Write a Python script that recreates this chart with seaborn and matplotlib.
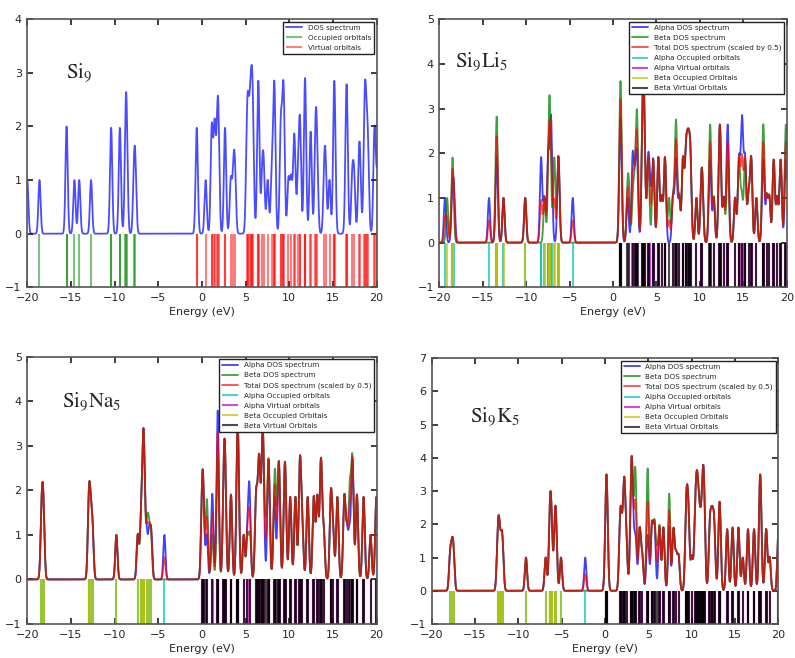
import numpy as np
import pandas as pd
import matplotlib
matplotlib.use("Agg")
import matplotlib.pyplot as plt
import seaborn as sns

# orbital energies (eV); repeated / close values = (near) degenerate levels
si9_occ = [-20.0, -18.6, -15.5, -15.5, -14.6, -14.05, -12.7, -10.42, -10.38, -9.42, -9.38,
           -8.76, -8.68, -8.6, -7.78, -7.62]
si9_virt = [-0.62, -0.58, 0.42, 1.1, 1.14, 1.42, 1.47, 1.72, 1.84, 1.9, 2.62, 2.66, 3.3, 3.6, 3.78,
            5.12, 5.22, 5.32, 5.48, 5.58, 5.68, 5.78, 5.86, 6.4, 6.45, 6.5, 6.9, 7.08, 7.52, 7.98,
            8.22, 8.28, 8.34, 9.0, 9.05, 9.26, 9.33, 9.4, 9.9, 10.2, 10.52, 10.62, 11.0, 11.2, 11.25,
            11.76, 11.8, 11.84, 12.4, 12.48, 12.98, 13.05, 13.2, 14.0, 14.16, 14.6, 15.1, 15.15, 15.2,
            16.5, 16.55, 16.62, 17.2, 17.42, 17.96, 18.1, 18.58, 18.66, 18.74, 18.9, 19.02,
            19.72, 19.78, 20.05]

li5_alpha_occ = [-19.35, -18.5, -18.3, -14.28, -13.42, -13.36, -12.62, -10.12, -8.32, -8.24, -7.9,
                 -7.5, -7.45, -7.2, -7.14, -7.08, -6.32, -6.26, -4.64]
li5_beta_occ = [-19.1, -18.52, -18.44, -13.45, -13.4, -13.34, -12.6, -10.1, -7.88, -7.42, -7.35,
                -7.28, -7.2, -6.8, -6.72, -6.32, -6.24]
li5_alpha_virt = [0.8, 0.86, 0.92, 1.68, 2.22, 2.3, 2.52, 2.7, 2.8, 3.35, 3.42, 3.5, 3.56, 3.64,
                  4.0, 4.1, 4.3, 4.58, 4.68, 5.18, 5.26, 5.6, 5.94, 6.02, 6.9, 7.2, 7.3, 7.62,
                  8.0, 8.1, 8.35, 8.45, 8.6, 8.7, 8.85, 8.95, 9.6, 10.15, 10.3, 11.12, 11.22, 11.6,
                  12.22, 12.3, 12.38, 12.75, 13.12, 13.2, 13.28, 14.05, 14.45, 14.55, 14.78, 14.86,
                  14.92, 15.15, 15.25, 15.6, 15.86, 15.95, 16.5, 17.25, 17.35, 17.7, 18.0, 18.45,
                  18.55, 18.9, 19.25, 19.35, 19.85, 19.95]
li5_beta_virt = [0.78, 0.84, 0.88, 0.94, 1.66, 1.84, 2.3, 2.52, 2.7, 2.76, 2.82, 3.35, 3.42, 3.5,
                 3.56, 3.64, 4.0, 4.1, 4.58, 4.68, 5.18, 5.26, 5.6, 5.94, 6.02, 6.45, 6.9, 7.18,
                 7.25, 7.32, 7.62, 8.0, 8.1, 8.35, 8.45, 8.6, 8.7, 8.85, 8.95, 9.6, 10.15, 10.3,
                 11.1, 11.18, 11.26, 11.6, 12.22, 12.3, 12.38, 12.75, 13.15, 13.25, 14.05, 14.45,
                 14.55, 14.82, 15.15, 15.25, 15.6, 15.86, 15.95, 16.5, 17.22, 17.3, 17.38, 17.7,
                 18.0, 18.45, 18.55, 18.9, 19.25, 19.35, 19.82, 19.9, 19.98]

na5_alpha_occ = [-18.38, -18.25, -18.12, -12.98, -12.88, -12.72, -12.52, -9.8, -7.35, -7.0, -6.82,
                 -6.72, -6.66, -6.6, -6.35, -6.05, -5.8, -4.3]
na5_beta_occ = [-18.38, -18.25, -18.12, -12.98, -12.88, -12.72, -12.52, -9.8, -7.35, -7.0, -6.82,
                -6.72, -6.66, -6.6, -6.3, -6.1, -5.85]
na5_alpha_virt = [-0.02, 0.08, 0.18, 0.55, 1.15, 1.22, 1.74, 1.8, 1.8, 1.86, 2.45, 2.55, 2.62, 2.7,
                  3.28, 3.36, 4.0, 4.06, 4.12, 4.18, 4.78, 5.2, 5.42, 5.45, 6.15, 6.25, 6.45, 6.55,
                  6.6, 6.85, 6.92, 7.0, 7.05, 7.55, 7.62, 7.7, 8.25, 8.35, 8.72, 8.8, 8.88, 9.42,
                  9.5, 9.58, 10.05, 10.15, 10.65, 10.75, 11.15, 11.22, 11.3, 11.5, 12.05, 12.15,
                  12.75, 12.85, 13.15, 13.25, 13.55, 13.62, 13.7, 13.95, 14.72, 14.8, 15.02, 15.45,
                  15.55, 16.25, 16.35, 16.6, 16.88, 17.15, 17.22, 17.3, 17.7, 17.78, 18.45, 18.55,
                  19.3, 19.92, 20.02]
na5_beta_virt = [-0.02, 0.08, 0.18, 0.5, 0.62, 1.18, 1.74, 1.8, 1.86, 2.45, 2.55, 2.62, 2.7, 3.28,
                 3.36, 4.0, 4.06, 4.12, 4.18, 4.78, 5.2, 5.5, 6.15, 6.25, 6.45, 6.55, 6.6, 6.85,
                 6.92, 7.0, 7.05, 7.3, 7.55, 7.62, 7.7, 8.25, 8.35, 8.45, 8.72, 8.8, 8.88, 9.42,
                 9.5, 9.58, 10.05, 10.15, 10.65, 10.75, 11.15, 11.22, 11.3, 11.5, 12.05, 12.15,
                 12.75, 12.85, 13.15, 13.25, 13.55, 13.62, 13.7, 13.95, 14.72, 14.8, 15.02, 15.45,
                 15.55, 16.25, 16.35, 16.6, 16.88, 16.95, 17.15, 17.22, 17.3, 17.7, 17.78, 18.45,
                 18.55, 19.3, 19.92, 20.02]

k5_alpha_occ = [-17.88, -17.66, -17.48, -12.4, -12.28, -12.15, -11.95, -11.8, -9.12, -6.85, -6.4,
                -6.32, -6.24, -6.12, -5.8, -5.72, -5.62, -5.08, -2.28]
k5_beta_occ = [-17.88, -17.66, -17.48, -12.4, -12.28, -12.15, -11.95, -11.8, -9.12, -6.85, -6.4,
               -6.32, -6.24, -6.12, -5.8, -5.72, -5.62, -5.08]
k5_alpha_virt = [0.08, 0.14, 0.2, 0.26, 1.7, 1.8, 1.9, 2.1, 2.18, 2.25, 2.32, 2.5, 2.95, 3.02, 3.08,
                 3.14, 3.2, 3.42, 3.58, 3.95, 4.05, 4.3, 4.85, 5.0, 5.38, 5.45, 5.68, 5.75, 6.25,
                 6.33, 6.7, 6.78, 7.38, 7.45, 7.85, 7.95, 8.22, 8.5, 9.32, 9.4, 9.48, 9.6, 9.68,
                 10.02, 10.35, 10.45, 10.55, 10.62, 10.7, 10.8, 10.92, 11.05, 11.2, 11.28, 11.35,
                 11.42, 11.5, 12.05, 12.15, 12.3, 12.4, 12.55, 12.65, 13.15, 13.22, 13.3, 14.05,
                 14.15, 14.68, 14.76, 15.36, 15.44, 15.9, 16.45, 16.55, 17.15, 17.25, 17.82, 17.88,
                 17.94, 18.0, 18.55, 18.65, 19.0, 20.0, 20.05]
k5_beta_virt = [0.08, 0.14, 0.2, 0.26, 1.7, 1.8, 1.9, 2.1, 2.18, 2.25, 2.32, 2.5, 2.95, 3.02, 3.08,
                3.14, 3.2, 3.42, 3.5, 3.5, 3.58, 3.95, 4.05, 4.3, 4.85, 4.92, 4.92, 5.0, 5.38, 5.45,
                5.68, 5.75, 6.0, 6.25, 6.33, 6.7, 6.78, 7.38, 7.4, 7.45, 7.85, 7.95, 8.22, 8.5,
                9.32, 9.4, 9.48, 9.6, 9.68, 10.02, 10.35, 10.45, 10.55, 10.62, 10.7, 10.8, 10.92,
                11.05, 11.2, 11.28, 11.35, 11.42, 11.5, 12.05, 12.15, 12.3, 12.4, 12.55, 12.65,
                13.15, 13.22, 13.3, 14.05, 14.15, 14.68, 14.76, 15.36, 15.44, 15.9, 16.45, 16.55,
                17.15, 17.25, 17.82, 17.88, 17.94, 18.0, 18.55, 18.65, 19.0, 20.0, 20.05]

FWHM = 0.3
sigma = FWHM / 2.3548
grid = np.linspace(-20, 20, 4001)

# classic matplotlib single-letter colours
BLUE, GREEN, RED = "#0000ff", "#008000", "#ff0000"
CYAN, MAGENTA, YELLOW, BLACK = "#00bfbf", "#bf00bf", "#bfbf00", "#000000"


def broaden(levels):
    e = np.asarray(levels)[:, None]
    return np.exp(-((grid[None, :] - e) ** 2) / (2 * sigma ** 2)).sum(axis=0)


sns.set_theme(style="ticks", color_codes=False, rc={
    "xtick.direction": "in", "ytick.direction": "in",
    "xtick.top": True, "ytick.right": True,
    "xtick.major.size": 4, "ytick.major.size": 4,
    "xtick.labelsize": 8, "ytick.labelsize": 8,
    "axes.labelsize": 8, "axes.edgecolor": "#555555", "axes.linewidth": 1.2,
    "xtick.major.pad": 4, "ytick.major.pad": 4,
})
plt.rcParams["font.family"] = ["DejaVu Sans"]
plt.rcParams["mathtext.fontset"] = "stix"

fig = plt.figure(figsize=(7.95, 6.58), dpi=100)
ax_si9 = fig.add_axes([0.0343, 0.5634, 0.4395, 0.4073])
ax_li = fig.add_axes([0.5526, 0.5634, 0.437, 0.4073])
ax_na = fig.add_axes([0.0343, 0.0517, 0.4395, 0.4062])
ax_k = fig.add_axes([0.543, 0.0517, 0.436, 0.4038])


def style_legend(ax):
    handles, labels = ax.get_legend_handles_labels()
    leg = ax.legend(handles, labels, loc="upper right", fontsize=5.2, frameon=True,
                    fancybox=False, framealpha=1, edgecolor="#222222",
                    borderaxespad=0.35, labelspacing=0.55, handlelength=2.2)
    leg.get_frame().set_linewidth(1.0)


def finish(ax, ymax, name, tx, ty):
    ax.set_xlim(-20, 20)
    ax.set_ylim(-1, ymax)
    ax.set_xticks(range(-20, 21, 5))
    ax.set_yticks(range(-1, ymax + 1))
    ax.set_xlabel("Energy (eV)", labelpad=3)
    ax.set_ylabel("")
    ax.text(tx, ty, name, transform=ax.transAxes, fontsize=15, va="center", ha="left")


# --- Si9 (closed shell) ---
df = pd.DataFrame({"energy": grid, "dos": broaden(si9_occ + si9_virt)})
sns.lineplot(data=df, x="energy", y="dos", ax=ax_si9, color=BLUE, lw=1.3, alpha=0.7,
             estimator=None, label="DOS spectrum")
ax_si9.vlines(si9_occ, -1, 0, colors=GREEN, lw=1.5, alpha=0.5, label="Occupied orbitals")
ax_si9.vlines(si9_virt, -1, 0, colors=RED, lw=1.5, alpha=0.5, label="Virtual orbitals")
style_legend(ax_si9)
finish(ax_si9, 4, r"$\mathrm{Si_9}$", 0.11, 0.80)

# --- open shell clusters ---
panels = [
    (ax_li, li5_alpha_occ, li5_alpha_virt, li5_beta_occ, li5_beta_virt, 5,
     r"$\mathrm{Si_9Li_5}$", 0.045, 0.84),
    (ax_na, na5_alpha_occ, na5_alpha_virt, na5_beta_occ, na5_beta_virt, 5,
     r"$\mathrm{Si_9Na_5}$", 0.10, 0.83),
    (ax_k, k5_alpha_occ, k5_alpha_virt, k5_beta_occ, k5_beta_virt, 7,
     r"$\mathrm{Si_9K_5}$", 0.11, 0.78),
]

for ax, a_occ, a_virt, b_occ, b_virt, ymax, name, tx, ty in panels:
    alpha_dos = broaden(a_occ + a_virt)
    beta_dos = broaden(b_occ + b_virt)
    df = pd.DataFrame({"energy": grid, "alpha": alpha_dos, "beta": beta_dos,
                       "total": 0.5 * (alpha_dos + beta_dos)})
    sns.lineplot(data=df, x="energy", y="alpha", ax=ax, color=BLUE, lw=1.3, alpha=0.75,
                 estimator=None, label="Alpha DOS spectrum")
    sns.lineplot(data=df, x="energy", y="beta", ax=ax, color=GREEN, lw=1.3, alpha=0.75,
                 estimator=None, label="Beta DOS spectrum")
    sns.lineplot(data=df, x="energy", y="total", ax=ax, color=RED, lw=1.3, alpha=0.7,
                 estimator=None, label="Total DOS spectrum (scaled by 0.5)")
    ax.vlines(a_occ, -1, 0, colors=CYAN, lw=1.5, alpha=0.7, label="Alpha Occupied orbitals")
    ax.vlines(a_virt, -1, 0, colors=MAGENTA, lw=1.5, alpha=0.7, label="Alpha Virtual orbitals")
    ax.vlines(b_occ, -1, 0, colors=YELLOW, lw=1.5, alpha=0.7, label="Beta Occupied Orbitals")
    ax.vlines(b_virt, -1, 0, colors=BLACK, lw=1.5, alpha=0.7, label="Beta Virtual Orbitals")
    style_legend(ax)
    finish(ax, ymax, name, tx, ty)

fig.savefig("out.png", dpi=100, facecolor="white")
plt.close(fig)
